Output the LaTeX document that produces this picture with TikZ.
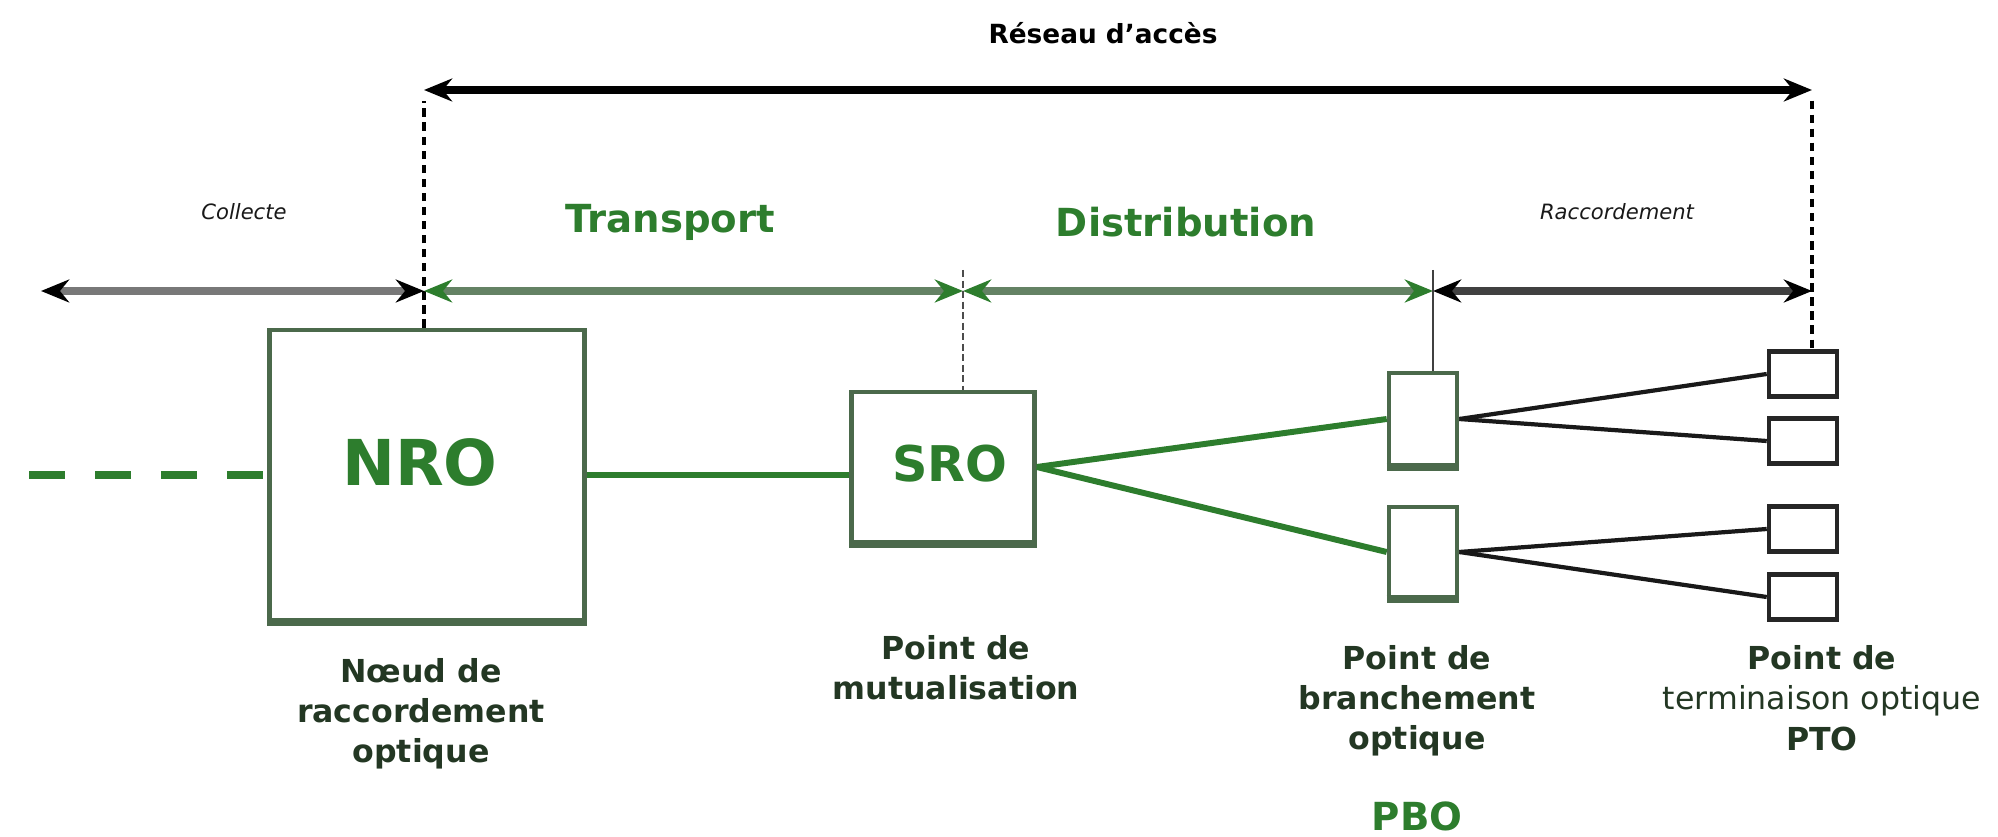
\documentclass[tikz,border=0pt]{standalone}
\usepackage{fontspec}
\setmainfont{DejaVu Sans}
\usepackage{tikz}
\usetikzlibrary{arrows.meta,positioning}

\definecolor{fibre}{RGB}{45,125,45}
\definecolor{boxline}{RGB}{75,105,75}
\definecolor{captext}{RGB}{35,55,35}
\definecolor{spangreen}{RGB}{100,130,100}
\definecolor{spangrey}{RGB}{120,120,120}

\tikzset{
  box/.style={draw=boxline,line width=1.3pt,fill=white,inner sep=0pt},
  ptobox/.style={draw=black!85,line width=1.3pt,fill=white,inner sep=0pt,minimum width=0.68cm,minimum height=0.45cm},
  span/.style={line width=2pt,{Stealth[length=8pt,width=6.5pt,#1]}-{Stealth[length=8pt,width=6.5pt,#1]}},
  span/.default=black,
  bound/.style={black,line width=1.3pt,dash pattern=on 2.4pt off 1.6pt},
  fibreline/.style={fibre,line width=1.7pt},
  dropline/.style={black!90,line width=1.2pt},
  caption/.style={align=center,inner sep=0pt,text=captext,font=\fontsize{9}{11.5}\selectfont\bfseries},
  zone/.style={text=fibre,font=\fontsize{11}{13}\selectfont\bfseries},
  minor/.style={text=black!90,font=\fontsize{6}{7}\selectfont\itshape}
}

\begin{document}
\begin{tikzpicture}[x=0.1mm,y=-0.1mm]
\useasboundingbox (0,0) rectangle (1998,837);

% boites
\node[box,minimum width=3.15cm,minimum height=2.9cm] (nro) at (427,475) {};
\node[text=fibre,font=\fontsize{18}{20}\selectfont\bfseries] (nrotxt) at (420,462) {NRO};
\node[box,minimum width=1.83cm,minimum height=1.5cm] (sro) at (943,467) {};
\node[text=fibre,font=\fontsize{14}{16}\selectfont\bfseries] (srotxt) at (950,464) {SRO};
\node[box,minimum width=0.68cm,minimum height=0.92cm] (pbo1) at (1423,419) {};
\node[box,minimum width=0.68cm,minimum height=0.9cm] (pbo2) at (1423,552) {};
\foreach \i/\y in {1/374,2/441,3/529,4/597}
  \node[ptobox] (pto\i) at (1803,\y) {};
\foreach \n in {nro,sro,pbo1,pbo2}
  \draw[boxline,line width=2.2pt] (\n.south west) -- (\n.south east);

% fibres
\coordinate (lead) at (29,475);
\draw[fibreline,line width=2.2pt,dash pattern=on 3.6mm off 3mm] (lead) -- (nro.west);
\draw[fibreline] (nro.east) -- (nro.east -| sro.west);
\draw[fibreline] (sro.east) -- (pbo1.west);
\draw[fibreline] (sro.east) -- (pbo2.west);
\draw[dropline] (pbo1.east) -- (pto1.west);
\draw[dropline] (pbo1.east) -- (pto2.west);
\draw[dropline] (pbo2.east) -- (pto3.west);
\draw[dropline] (pbo2.east) -- (pto4.west);

% reseau d'acces
\coordinate (a) at (424,90);
\coordinate (b) at (1812,90);
\draw[span] (a) -- (b);
\draw[bound] (a |- nro.north) -- ([yshift=-3pt]a);
\draw[bound] ([yshift=-3pt]b) -- (b |- pto1.north);
\node[font=\fontsize{7.5}{9}\selectfont\bfseries] (reseau) at (1103,33) {Réseau d'accès};

% segments
\coordinate (c0) at (41,291);
\coordinate (c1) at (424,291);
\coordinate (c2) at (963,291);
\coordinate (c3) at (1433,291);
\coordinate (c4) at (1812,291);
\draw[span,spangrey] (c0) -- (c1);
\draw[span=fibre,spangreen] (c1) -- (c2);
\draw[span=fibre,spangreen] (c2) -- (c3);
\draw[span,black!75] (c3) -- (c4);
\coordinate (s) at (963,270);
\coordinate (p) at (1433,270);
\draw[black!70,line width=0.8pt,dash pattern=on 2pt off 1pt] (s) -- (s |- sro.north);
\draw[black!75,line width=0.8pt] (p) -- (p |- pbo1.north);

\node[minor] (collecte) at (244,212) {Collecte};
\node[zone] (transport) at (670,222) {Transport};
\node[zone] (distribution) at (1186,222) {Distribution};
\node[minor] (raccord) at (1617,212) {Raccordement};

% legendes
\node[caption,below=3.5mm of nro,xshift=-0.6mm] (nrocap) {Nœud de\\raccordement\\optique};
\node[caption,below=9mm of sro,xshift=1.3mm] (srocap) {Point de\\mutualisation};
\node[caption,below=4.5mm of pbo2,xshift=-0.6mm] (pbocap) {Point de\\branchement\\optique};
\node[text=fibre,font=\fontsize{11}{13}\selectfont\bfseries,below=3.2mm of pbocap] (pbotxt) {PBO};
\node[caption,below=2.3mm of pto4,xshift=1.9mm] (ptocap) {Point de\\{\mdseries terminaison optique}\\PTO};
\end{tikzpicture}
\end{document}
